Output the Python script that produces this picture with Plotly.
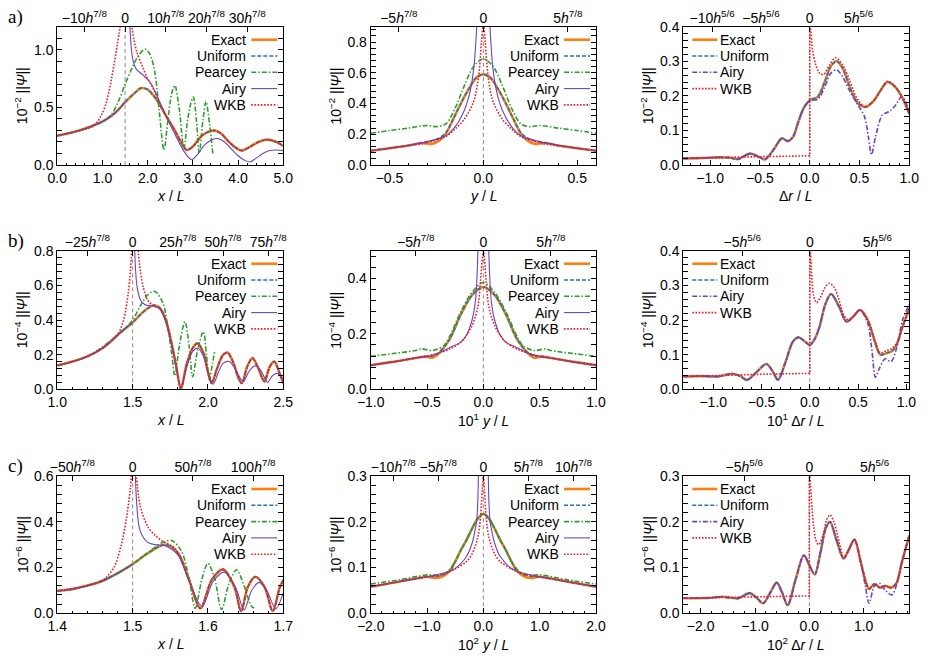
import plotly.graph_objects as go

W, H = 928, 663

# ---------------- Panel a) column 1 ----------------
a1_exact_x = [0.0, 0.3, 0.6, 0.9, 1.1, 1.3, 1.5, 1.7, 1.85, 2.0, 2.2, 2.4, 2.6, 2.75, 2.86, 3.0, 3.2, 3.45, 3.6, 3.8, 3.95, 4.08, 4.25, 4.45, 4.63, 4.85, 5.0]
a1_exact_y = [0.254, 0.28, 0.315, 0.36, 0.40, 0.46, 0.545, 0.62, 0.667, 0.655, 0.565, 0.43, 0.30, 0.19, 0.13, 0.16, 0.255, 0.30, 0.28, 0.20, 0.15, 0.125, 0.155, 0.20, 0.22, 0.20, 0.165]
a1_uniform_x = list(a1_exact_x)
a1_uniform_y = list(a1_exact_y)
a1_pearcey_x = [0.0, 0.5, 1.0, 1.2, 1.35, 1.5, 1.68, 1.8, 1.94, 2.05, 2.16, 2.26, 2.36, 2.45, 2.53, 2.6, 2.7, 2.8, 2.88, 2.95, 3.01, 3.08, 3.14, 3.22, 3.29, 3.37, 3.44]
a1_pearcey_y = [0.254, 0.30, 0.375, 0.44, 0.55, 0.70, 0.865, 0.95, 1.005, 0.96, 0.80, 0.45, 0.13, 0.40, 0.62, 0.69, 0.48, 0.14, 0.38, 0.53, 0.59, 0.38, 0.10, 0.38, 0.55, 0.35, 0.10]
a1_airy_x = [0.0, 0.5, 1.0, 1.3, 1.5, None, 1.585, 1.6, 1.64, 1.68, 1.75, 1.9, 2.05, 2.15, 2.23, 2.4, 2.6, 2.8, 2.97, 3.1, 3.25, 3.4, 3.53, 3.7, 3.85, 4.0, 4.15, 4.26, 4.4, 4.55, 4.7, 4.85, 5.0]
a1_airy_y = [0.254, 0.30, 0.375, 0.46, 0.545, None, 1.4, 1.25, 1.0, 0.90, 0.83, 0.78, 0.72, 0.65, 0.58, 0.43, 0.27, 0.12, 0.046, 0.09, 0.17, 0.215, 0.23, 0.20, 0.14, 0.08, 0.04, 0.026, 0.06, 0.10, 0.125, 0.13, 0.125]
a1_wkb_x = [0.0, 0.5, 0.8, 0.98, 1.09, 1.2, 1.28, 1.33, 1.37, 1.39, 1.41, None, 1.63, 1.65, 1.7, 1.76, 1.9, 2.0, 2.12, 2.2, 2.4, 2.6, 2.75, 2.86, 3.0, 3.2, 3.45, 3.6, 3.8, 3.95, 4.08, 4.25, 4.45, 4.63, 4.85, 5.0]
a1_wkb_y = [0.254, 0.30, 0.34, 0.435, 0.55, 0.75, 0.93, 1.05, 1.15, 1.2, 1.3, None, 1.3, 1.2, 1.08, 0.98, 0.84, 0.75, 0.665, 0.59, 0.43, 0.30, 0.19, 0.13, 0.16, 0.255, 0.30, 0.28, 0.20, 0.15, 0.125, 0.155, 0.20, 0.22, 0.20, 0.165]

# ---------------- Panel a) column 2 ----------------
a2_exact_x = [-0.6, -0.5, -0.4, -0.34, -0.3, -0.27, -0.24, -0.2, -0.16, -0.12, -0.08, -0.04, 0.0, 0.04, 0.08, 0.12, 0.16, 0.2, 0.24, 0.27, 0.3, 0.34, 0.4, 0.5, 0.6]
a2_exact_y = [0.093, 0.109, 0.127, 0.142, 0.14, 0.138, 0.155, 0.205, 0.30, 0.40, 0.49, 0.565, 0.59, 0.565, 0.49, 0.40, 0.30, 0.205, 0.155, 0.138, 0.14, 0.142, 0.127, 0.109, 0.093]
a2_uniform_x = list(a2_exact_x)
a2_uniform_y = [0.093, 0.109, 0.127, 0.143, 0.152, 0.16, 0.172, 0.21, 0.30, 0.40, 0.49, 0.565, 0.59, 0.565, 0.49, 0.40, 0.30, 0.21, 0.172, 0.16, 0.152, 0.143, 0.127, 0.109, 0.093]
a2_pearcey_x = [-0.6, -0.5, -0.4, -0.3, -0.25, -0.2, -0.15, -0.1, -0.05, 0.0, 0.05, 0.1, 0.15, 0.2, 0.25, 0.3, 0.4, 0.5, 0.6]
a2_pearcey_y = [0.207, 0.224, 0.24, 0.257, 0.25, 0.267, 0.37, 0.52, 0.645, 0.69, 0.645, 0.52, 0.37, 0.267, 0.25, 0.257, 0.24, 0.224, 0.207]
a2_airy_x = [-0.6, -0.5, -0.4, -0.3, -0.2, -0.15, -0.1, -0.07, -0.05, -0.04, -0.033, None, 0.033, 0.04, 0.05, 0.07, 0.1, 0.15, 0.2, 0.3, 0.4, 0.5, 0.6]
a2_airy_y = [0.093, 0.109, 0.128, 0.152, 0.19, 0.25, 0.36, 0.48, 0.64, 0.80, 0.95, None, 0.95, 0.80, 0.64, 0.48, 0.36, 0.25, 0.19, 0.152, 0.128, 0.109, 0.093]
a2_wkb_x = [-0.6, -0.5, -0.4, -0.3, -0.2, -0.15, -0.1, -0.05, -0.025, -0.01, 0.0, 0.01, 0.025, 0.05, 0.1, 0.15, 0.2, 0.3, 0.4, 0.5, 0.6]
a2_wkb_y = [0.093, 0.109, 0.125, 0.145, 0.185, 0.235, 0.30, 0.42, 0.58, 0.80, 0.92, 0.80, 0.58, 0.42, 0.30, 0.235, 0.185, 0.145, 0.125, 0.109, 0.093]

# ---------------- Panel a) column 3 ----------------
a3_exact_x = [-1.27, -1.1, -0.9, -0.8, -0.72, -0.6, -0.5, -0.45, -0.4, -0.35, -0.28, -0.22, -0.17, -0.12, -0.06, 0.0, 0.08, 0.15, 0.21, 0.27, 0.33, 0.4, 0.48, 0.56, 0.64, 0.71, 0.78, 0.85, 0.92, 1.0]
a3_exact_y = [0.019, 0.02, 0.022, 0.021, 0.017, 0.033, 0.022, 0.016, 0.03, 0.05, 0.077, 0.069, 0.08, 0.12, 0.165, 0.187, 0.197, 0.24, 0.285, 0.30, 0.28, 0.227, 0.18, 0.168, 0.185, 0.215, 0.24, 0.228, 0.20, 0.148]
a3_uniform_x = list(a3_exact_x)
a3_uniform_y = list(a3_exact_y)
a3_airy_x = [-1.27, -1.1, -0.9, -0.8, -0.72, -0.6, -0.5, -0.45, -0.4, -0.35, -0.28, -0.22, -0.17, -0.12, -0.06, 0.0, 0.08, 0.15, 0.21, 0.27, 0.33, 0.4, 0.48, 0.55, 0.59, 0.62, 0.66, 0.73, 0.8, 0.86, 0.92, 0.96, 1.0]
a3_airy_y = [0.019, 0.02, 0.022, 0.021, 0.017, 0.033, 0.022, 0.016, 0.03, 0.05, 0.077, 0.069, 0.08, 0.12, 0.165, 0.185, 0.19, 0.225, 0.265, 0.275, 0.255, 0.215, 0.175, 0.14, 0.08, 0.03, 0.08, 0.145, 0.155, 0.172, 0.197, 0.185, 0.15]
a3_wkb_left_x = [-1.27, -1.0, -0.7, -0.5, -0.3, -0.1, 0.0, 0.0]
a3_wkb_left_y = [0.02, 0.021, 0.022, 0.024, 0.025, 0.026, 0.027, 0.45]
a3_wkb_right_x = [0.0, 0.01, 0.03, 0.06, 0.1, 0.14, 0.2, 0.26, 0.33, 0.4, 0.48, 0.56, 0.64, 0.71, 0.78, 0.85, 0.92, 1.0]
a3_wkb_right_y = [0.45, 0.39, 0.33, 0.29, 0.265, 0.262, 0.29, 0.31, 0.29, 0.245, 0.19, 0.168, 0.185, 0.215, 0.242, 0.23, 0.20, 0.148]

# ---------------- Panel b) column 1 ----------------
b1_exact_x = [1.0, 1.1, 1.2, 1.3, 1.4, 1.45, 1.5, 1.55, 1.6, 1.64, 1.68, 1.72, 1.76, 1.79, 1.82, 1.86, 1.9, 1.93, 1.97, 2.0, 2.025, 2.06, 2.1, 2.13, 2.17, 2.2, 2.225, 2.26, 2.295, 2.33, 2.36, 2.375, 2.41, 2.44, 2.47, 2.5]
b1_exact_y = [0.137, 0.16, 0.19, 0.237, 0.313, 0.35, 0.385, 0.43, 0.467, 0.485, 0.47, 0.40, 0.26, 0.13, 0.005, 0.15, 0.24, 0.265, 0.21, 0.10, 0.035, 0.12, 0.198, 0.212, 0.15, 0.07, 0.035, 0.13, 0.18, 0.13, 0.065, 0.045, 0.13, 0.16, 0.105, 0.035]
b1_uniform_x = list(b1_exact_x)
b1_uniform_y = list(b1_exact_y)
b1_pearcey_x = [1.0, 1.2, 1.4, 1.5, 1.55, 1.6, 1.648, 1.7, 1.73, 1.76, 1.78, 1.81, 1.847, 1.875, 1.898, 1.93, 1.969, 1.99, 2.009, 2.03, 2.046]
b1_pearcey_y = [0.137, 0.19, 0.313, 0.40, 0.48, 0.545, 0.565, 0.50, 0.38, 0.2, 0.077, 0.25, 0.39, 0.25, 0.073, 0.22, 0.333, 0.2, 0.058, 0.15, 0.227]
b1_airy_x = [1.0, 1.1, 1.2, 1.3, 1.4, 1.45, 1.5, None, 1.512, 1.52, 1.53, 1.55, 1.58, 1.61, 1.64, 1.68, 1.72, 1.76, 1.79, 1.82, 1.86, 1.9, 1.935, 1.97, 2.0, 2.035, 2.07, 2.1, 2.14, 2.18, 2.21, 2.235, 2.27, 2.3, 2.32, 2.35, 2.38, 2.395, 2.43, 2.46, 2.49, 2.5]
b1_airy_y = [0.137, 0.16, 0.19, 0.237, 0.313, 0.35, 0.385, None, 0.85, 0.68, 0.59, 0.52, 0.49, 0.483, 0.48, 0.465, 0.39, 0.25, 0.12, 0.01, 0.13, 0.22, 0.237, 0.19, 0.10, 0.03, 0.10, 0.15, 0.16, 0.12, 0.07, 0.045, 0.10, 0.13, 0.135, 0.11, 0.06, 0.04, 0.08, 0.092, 0.07, 0.055]
b1_wkb_x = [1.0, 1.1, 1.2, 1.3, 1.35, 1.4, 1.44, 1.47, 1.485, 1.495, None, 1.535, 1.55, 1.57, 1.6, 1.64, 1.68, 1.72, 1.76, 1.79, 1.82, 1.86, 1.9, 1.93, 1.97, 2.0, 2.025, 2.06, 2.1, 2.13, 2.17, 2.2, 2.225, 2.26, 2.295, 2.33, 2.36, 2.375, 2.41, 2.44, 2.47, 2.5]
b1_wkb_y = [0.137, 0.16, 0.19, 0.24, 0.27, 0.313, 0.40, 0.55, 0.68, 0.82, None, 0.82, 0.69, 0.59, 0.515, 0.48, 0.468, 0.40, 0.26, 0.13, 0.005, 0.15, 0.24, 0.265, 0.21, 0.10, 0.035, 0.12, 0.198, 0.212, 0.15, 0.07, 0.035, 0.13, 0.18, 0.13, 0.065, 0.045, 0.13, 0.16, 0.105, 0.035]

# ---------------- Panel b) column 2 ----------------
b2_exact_x = [-1.0, -0.8, -0.6, -0.52, -0.45, -0.4, -0.3, -0.2, -0.1, 0.0, 0.1, 0.2, 0.3, 0.4, 0.45, 0.52, 0.6, 0.8, 1.0]
b2_exact_y = [0.087, 0.099, 0.113, 0.118, 0.114, 0.128, 0.18, 0.27, 0.34, 0.369, 0.34, 0.27, 0.18, 0.128, 0.114, 0.118, 0.113, 0.099, 0.087]
b2_uniform_x = list(b2_exact_x)
b2_uniform_y = [0.087, 0.099, 0.113, 0.119, 0.12, 0.13, 0.18, 0.27, 0.34, 0.369, 0.34, 0.27, 0.18, 0.13, 0.12, 0.119, 0.113, 0.099, 0.087]
b2_pearcey_x = [-1.0, -0.8, -0.6, -0.55, -0.45, -0.35, -0.3, -0.2, -0.1, 0.0, 0.1, 0.2, 0.3, 0.35, 0.45, 0.55, 0.6, 0.8, 1.0]
b2_pearcey_y = [0.119, 0.129, 0.14, 0.146, 0.14, 0.158, 0.19, 0.28, 0.35, 0.385, 0.35, 0.28, 0.19, 0.158, 0.14, 0.146, 0.14, 0.129, 0.119]
b2_airy_x = [-1.0, -0.8, -0.6, -0.5, -0.4, -0.3, -0.2, -0.15, -0.1, -0.07, -0.055, -0.045, None, 0.045, 0.055, 0.07, 0.1, 0.15, 0.2, 0.3, 0.4, 0.5, 0.6, 0.8, 1.0]
b2_airy_y = [0.087, 0.099, 0.113, 0.118, 0.13, 0.15, 0.17, 0.195, 0.25, 0.32, 0.42, 0.55, None, 0.55, 0.42, 0.32, 0.25, 0.195, 0.17, 0.15, 0.13, 0.118, 0.113, 0.099, 0.087]
b2_wkb_x = [-1.0, -0.8, -0.6, -0.5, -0.4, -0.3, -0.2, -0.15, -0.1, -0.05, -0.025, -0.01, 0.0, 0.01, 0.025, 0.05, 0.1, 0.15, 0.2, 0.3, 0.4, 0.5, 0.6, 0.8, 1.0]
b2_wkb_y = [0.087, 0.099, 0.113, 0.12, 0.13, 0.145, 0.17, 0.195, 0.23, 0.295, 0.39, 0.47, 0.5, 0.47, 0.39, 0.295, 0.23, 0.195, 0.17, 0.145, 0.13, 0.12, 0.113, 0.099, 0.087]

# ---------------- Panel b) column 3 ----------------
b3_exact_x = [-1.31, -1.1, -0.95, -0.8, -0.72, -0.65, -0.55, -0.45, -0.38, -0.33, -0.25, -0.18, -0.12, -0.06, 0.0, 0.05, 0.1, 0.16, 0.22, 0.3, 0.38, 0.45, 0.52, 0.6, 0.67, 0.73, 0.8, 0.85, 0.9, 0.96, 1.03]
b3_exact_y = [0.037, 0.038, 0.037, 0.045, 0.038, 0.027, 0.05, 0.073, 0.05, 0.027, 0.08, 0.135, 0.15, 0.14, 0.128, 0.145, 0.18, 0.245, 0.275, 0.24, 0.195, 0.21, 0.229, 0.2, 0.14, 0.1, 0.105, 0.11, 0.13, 0.18, 0.234]
b3_uniform_x = list(b3_exact_x)
b3_uniform_y = list(b3_exact_y)
b3_airy_x = [-1.31, -1.1, -0.95, -0.8, -0.72, -0.65, -0.55, -0.45, -0.38, -0.33, -0.25, -0.18, -0.12, -0.06, 0.0, 0.05, 0.1, 0.16, 0.22, 0.3, 0.38, 0.45, 0.52, 0.6, 0.64, 0.68, 0.72, 0.78, 0.84, 0.9, 0.96, 1.03]
b3_airy_y = [0.037, 0.038, 0.037, 0.045, 0.038, 0.027, 0.05, 0.073, 0.05, 0.027, 0.08, 0.135, 0.15, 0.14, 0.128, 0.145, 0.18, 0.245, 0.275, 0.24, 0.195, 0.21, 0.229, 0.19, 0.12, 0.035, 0.06, 0.088, 0.08, 0.12, 0.2, 0.245]
b3_wkb_left_x = [-1.31, -1.0, -0.7, -0.4, -0.2, 0.0, 0.0]
b3_wkb_left_y = [0.037, 0.04, 0.042, 0.044, 0.045, 0.046, 0.45]
b3_wkb_right_x = [0.0, 0.015, 0.04, 0.07, 0.11, 0.16, 0.2, 0.25, 0.3, 0.35, 0.4, 0.45, 0.52, 0.6, 0.67, 0.73, 0.8, 0.85, 0.9, 0.96, 1.03]
b3_wkb_right_y = [0.45, 0.35, 0.27, 0.25, 0.265, 0.295, 0.306, 0.295, 0.26, 0.215, 0.2, 0.21, 0.229, 0.2, 0.145, 0.105, 0.112, 0.118, 0.132, 0.18, 0.234]

# ---------------- Panel c) column 1 ----------------
c1_exact_x = [1.4, 1.42, 1.44, 1.46, 1.48, 1.5, 1.52, 1.543, 1.56, 1.575, 1.59, 1.605, 1.62, 1.635, 1.644, 1.653, 1.663, 1.675, 1.686, 1.695, 1.7]
c1_exact_y = [0.098, 0.105, 0.121, 0.141, 0.175, 0.215, 0.262, 0.30, 0.265, 0.146, 0.022, 0.146, 0.192, 0.116, 0.01, 0.116, 0.16, 0.116, 0.01, 0.11, 0.146]
c1_uniform_x = list(c1_exact_x)
c1_uniform_y = list(c1_exact_y)
c1_pearcey_x = [1.4, 1.44, 1.48, 1.5, 1.52, 1.54, 1.552, 1.565, 1.575, 1.583, 1.592, 1.6, 1.609, 1.618, 1.628, 1.638, 1.648, 1.658, 1.664]
c1_pearcey_y = [0.098, 0.121, 0.175, 0.215, 0.265, 0.31, 0.318, 0.27, 0.15, 0.022, 0.15, 0.218, 0.15, 0.017, 0.13, 0.19, 0.12, 0.03, 0.02]
c1_airy_x = [1.4, 1.42, 1.44, 1.46, 1.48, 1.5, None, 1.5025, 1.505, 1.51, 1.52, 1.53, 1.543, 1.56, 1.575, 1.592, 1.607, 1.622, 1.637, 1.648, 1.658, 1.668, 1.678, 1.69, 1.7]
c1_airy_y = [0.098, 0.105, 0.121, 0.141, 0.175, 0.215, None, 0.8, 0.5, 0.36, 0.31, 0.30, 0.295, 0.255, 0.14, 0.03, 0.14, 0.18, 0.11, 0.015, 0.1, 0.135, 0.1, 0.02, 0.09]
c1_wkb_x = [1.4, 1.44, 1.46, 1.475, 1.485, 1.492, 1.497, 1.5, None, 1.504, 1.51, 1.52, 1.53, 1.54, 1.554, 1.56, 1.575, 1.59, 1.605, 1.62, 1.635, 1.644, 1.653, 1.663, 1.675, 1.686, 1.695, 1.7]
c1_wkb_y = [0.098, 0.121, 0.143, 0.2, 0.3, 0.42, 0.55, 0.7, None, 0.65, 0.47, 0.38, 0.34, 0.315, 0.29, 0.265, 0.146, 0.022, 0.146, 0.192, 0.116, 0.01, 0.116, 0.16, 0.116, 0.01, 0.11, 0.146]

# ---------------- Panel c) column 2 ----------------
c2_exact_x = [-2.0, -1.5, -1.0, -0.85, -0.75, -0.6, -0.5, -0.4, -0.3, -0.2, -0.1, 0.0, 0.1, 0.2, 0.3, 0.4, 0.5, 0.6, 0.75, 0.85, 1.0, 1.5, 2.0]
c2_exact_y = [0.058, 0.069, 0.08, 0.077, 0.079, 0.092, 0.113, 0.138, 0.16, 0.185, 0.207, 0.217, 0.207, 0.185, 0.16, 0.138, 0.113, 0.092, 0.079, 0.077, 0.08, 0.069, 0.058]
c2_uniform_x = list(c2_exact_x)
c2_uniform_y = [0.058, 0.069, 0.08, 0.081, 0.083, 0.092, 0.113, 0.138, 0.16, 0.185, 0.207, 0.217, 0.207, 0.185, 0.16, 0.138, 0.113, 0.092, 0.083, 0.081, 0.08, 0.069, 0.058]
c2_pearcey_x = [-2.0, -1.5, -1.0, -0.8, -0.65, -0.5, -0.4, -0.3, -0.2, -0.1, 0.0, 0.1, 0.2, 0.3, 0.4, 0.5, 0.65, 0.8, 1.0, 1.5, 2.0]
c2_pearcey_y = [0.064, 0.073, 0.084, 0.083, 0.09, 0.113, 0.138, 0.16, 0.185, 0.207, 0.218, 0.207, 0.185, 0.16, 0.138, 0.113, 0.09, 0.083, 0.084, 0.073, 0.064]
c2_airy_x = [-2.0, -1.5, -1.0, -0.7, -0.5, -0.3, -0.2, -0.15, -0.12, -0.1, -0.085, None, 0.085, 0.1, 0.12, 0.15, 0.2, 0.3, 0.5, 0.7, 1.0, 1.5, 2.0]
c2_airy_y = [0.058, 0.069, 0.08, 0.088, 0.098, 0.124, 0.153, 0.18, 0.2, 0.24, 0.32, None, 0.32, 0.24, 0.2, 0.18, 0.153, 0.124, 0.098, 0.088, 0.08, 0.069, 0.058]
c2_wkb_x = [-2.0, -1.5, -1.0, -0.7, -0.5, -0.3, -0.2, -0.1, -0.05, -0.02, 0.0, 0.02, 0.05, 0.1, 0.2, 0.3, 0.5, 0.7, 1.0, 1.5, 2.0]
c2_wkb_y = [0.058, 0.069, 0.079, 0.086, 0.097, 0.113, 0.13, 0.165, 0.21, 0.27, 0.3, 0.27, 0.21, 0.165, 0.13, 0.113, 0.097, 0.086, 0.079, 0.069, 0.058]

# ---------------- Panel c) column 3 ----------------
c3_exact_x = [-2.32, -2.0, -1.8, -1.6, -1.45, -1.3, -1.1, -0.98, -0.85, -0.72, -0.6, -0.5, -0.4, -0.25, -0.1, 0.0, 0.1, 0.2, 0.3, 0.38, 0.5, 0.63, 0.73, 0.83, 0.95, 1.05, 1.1, 1.2, 1.3, 1.4, 1.5, 1.6, 1.7, 1.78, 1.84]
c3_exact_y = [0.033, 0.033, 0.034, 0.036, 0.034, 0.033, 0.044, 0.035, 0.022, 0.045, 0.067, 0.045, 0.018, 0.075, 0.127, 0.105, 0.085, 0.13, 0.185, 0.20, 0.16, 0.12, 0.14, 0.161, 0.11, 0.065, 0.053, 0.064, 0.056, 0.06, 0.056, 0.065, 0.11, 0.145, 0.17]
c3_uniform_x = list(c3_exact_x)
c3_uniform_y = list(c3_exact_y)
c3_airy_x = [-2.32, -2.0, -1.8, -1.6, -1.45, -1.3, -1.1, -0.98, -0.85, -0.72, -0.6, -0.5, -0.4, -0.25, -0.1, 0.0, 0.1, 0.2, 0.3, 0.38, 0.5, 0.63, 0.73, 0.83, 0.95, 1.03, 1.1, 1.2, 1.3, 1.4, 1.52, 1.6, 1.7, 1.78, 1.84]
c3_airy_y = [0.033, 0.033, 0.034, 0.036, 0.034, 0.033, 0.044, 0.035, 0.022, 0.045, 0.067, 0.045, 0.018, 0.075, 0.127, 0.105, 0.085, 0.13, 0.185, 0.20, 0.16, 0.12, 0.14, 0.161, 0.11, 0.06, 0.022, 0.06, 0.065, 0.05, 0.04, 0.06, 0.11, 0.145, 0.17]
c3_wkb_left_x = [-2.32, -2.0, -1.5, -1.0, -0.5, 0.0, 0.0]
c3_wkb_left_y = [0.033, 0.034, 0.035, 0.036, 0.037, 0.038, 0.32]
c3_wkb_right_x = [0.0, 0.02, 0.05, 0.08, 0.12, 0.17, 0.25, 0.32, 0.38, 0.45, 0.52, 0.6, 0.63, 0.73, 0.83, 0.95, 1.05, 1.1, 1.2, 1.3, 1.4, 1.5, 1.6, 1.7, 1.78, 1.84]
c3_wkb_right_y = [0.32, 0.28, 0.23, 0.19, 0.16, 0.15, 0.17, 0.205, 0.215, 0.2, 0.17, 0.13, 0.12, 0.14, 0.161, 0.11, 0.065, 0.053, 0.064, 0.056, 0.06, 0.056, 0.065, 0.11, 0.145, 0.17]

# ---------------- axes / labels ----------------
x_ranges = [[0.0, 5.0], [-0.6, 0.6], [-1.27, 1.0],
            [1.0, 2.5], [-1.0, 1.0], [-1.31, 1.03],
            [1.4, 1.7], [-2.0, 2.0], [-2.32, 1.84]]
y_ranges = [[0, 1.2], [0, 0.9], [0, 0.4],
            [0, 0.8], [0, 0.5], [0, 0.4],
            [0, 0.6], [0, 0.3], [0, 0.3]]
x_dticks = [1.0, 0.5, 0.5, 0.5, 0.5, 0.5, 0.1, 1.0, 1.0]
y_dticks = [0.5, 0.2, 0.1, 0.2, 0.2, 0.1, 0.2, 0.1, 0.1]
caustic_x = [1.5, 0.0, 0.0, 1.5, 0.0, 0.0, 1.5, 0.0, 0.0]

H78 = "<i>h</i><sup>7/8</sup>"
H56 = "<i>h</i><sup>5/6</sup>"
top_vals = [[0.6, 1.5, 2.4, 3.3, 4.2], [-0.45, 0.0, 0.45], [-0.98, -0.49, 0.0, 0.49],
            [1.2, 1.5, 1.8, 2.1, 2.4], [-0.6, 0.0, 0.6], [-0.7, 0.0, 0.7],
            [1.42, 1.5, 1.58, 1.66], [-1.6, -0.8, 0.0, 0.8, 1.6], [-1.2, 0.0, 1.2]]
top_text = [["−10" + H78, "0", "10" + H78, "20" + H78, "30" + H78],
            ["−5" + H78, "0", "5" + H78],
            ["−10" + H56, "−5" + H56, "0", "5" + H56],
            ["−25" + H78, "0", "25" + H78, "50" + H78, "75" + H78],
            ["−5" + H78, "0", "5" + H78],
            ["−5" + H56, "0", "5" + H56],
            ["−50" + H78, "0", "50" + H78, "100" + H78],
            ["−10" + H78, "−5" + H78, "0", "5" + H78, "10" + H78],
            ["−5" + H56, "0", "5" + H56]]
x_titles = ["<i>x</i> / <i>L</i>", "<i>y</i> / <i>L</i>", "Δ<i>r</i> / <i>L</i>",
            "<i>x</i> / <i>L</i>", "10<sup>1</sup> <i>y</i> / <i>L</i>", "10<sup>1</sup> Δ<i>r</i> / <i>L</i>",
            "<i>x</i> / <i>L</i>", "10<sup>2</sup> <i>y</i> / <i>L</i>", "10<sup>2</sup> Δ<i>r</i> / <i>L</i>"]
y_titles = ["10<sup>−2</sup> ||<i>Ψ</i>||", "10<sup>−4</sup> ||<i>Ψ</i>||", "10<sup>−6</sup> ||<i>Ψ</i>||"]
row_labels = ["a)", "b)", "c)"]

panels = [
    [("Exact", a1_exact_x, a1_exact_y), ("Uniform", a1_uniform_x, a1_uniform_y), ("Pearcey", a1_pearcey_x, a1_pearcey_y), ("Airy", a1_airy_x, a1_airy_y), ("WKB", a1_wkb_x, a1_wkb_y)],
    [("Exact", a2_exact_x, a2_exact_y), ("Uniform", a2_uniform_x, a2_uniform_y), ("Pearcey", a2_pearcey_x, a2_pearcey_y), ("Airy", a2_airy_x, a2_airy_y), ("WKB", a2_wkb_x, a2_wkb_y)],
    [("Exact", a3_exact_x, a3_exact_y), ("Uniform", a3_uniform_x, a3_uniform_y), ("Airy", a3_airy_x, a3_airy_y), ("WKB", a3_wkb_left_x, a3_wkb_left_y), ("WKB", a3_wkb_right_x, a3_wkb_right_y)],
    [("Exact", b1_exact_x, b1_exact_y), ("Uniform", b1_uniform_x, b1_uniform_y), ("Pearcey", b1_pearcey_x, b1_pearcey_y), ("Airy", b1_airy_x, b1_airy_y), ("WKB", b1_wkb_x, b1_wkb_y)],
    [("Exact", b2_exact_x, b2_exact_y), ("Uniform", b2_uniform_x, b2_uniform_y), ("Pearcey", b2_pearcey_x, b2_pearcey_y), ("Airy", b2_airy_x, b2_airy_y), ("WKB", b2_wkb_x, b2_wkb_y)],
    [("Exact", b3_exact_x, b3_exact_y), ("Uniform", b3_uniform_x, b3_uniform_y), ("Airy", b3_airy_x, b3_airy_y), ("WKB", b3_wkb_left_x, b3_wkb_left_y), ("WKB", b3_wkb_right_x, b3_wkb_right_y)],
    [("Exact", c1_exact_x, c1_exact_y), ("Uniform", c1_uniform_x, c1_uniform_y), ("Pearcey", c1_pearcey_x, c1_pearcey_y), ("Airy", c1_airy_x, c1_airy_y), ("WKB", c1_wkb_x, c1_wkb_y)],
    [("Exact", c2_exact_x, c2_exact_y), ("Uniform", c2_uniform_x, c2_uniform_y), ("Pearcey", c2_pearcey_x, c2_pearcey_y), ("Airy", c2_airy_x, c2_airy_y), ("WKB", c2_wkb_x, c2_wkb_y)],
    [("Exact", c3_exact_x, c3_exact_y), ("Uniform", c3_uniform_x, c3_uniform_y), ("Airy", c3_airy_x, c3_airy_y), ("WKB", c3_wkb_left_x, c3_wkb_left_y), ("WKB", c3_wkb_right_x, c3_wkb_right_y)],
]

# ---------------- styling ----------------
FONT = "Liberation Sans, Arial, Helvetica, sans-serif"
C_EXACT, C_UNI, C_PEAR, C_AIRY, C_WKB = "#ff7f0e", "#1f77b4", "#2ca02c", "#6a44c2", "#ee1c25"


def style(name, col):
    if name == "Exact":
        return dict(color=C_EXACT, width=2.6, dash="solid")
    if name == "Uniform":
        return dict(color=C_UNI, width=1.6, dash="4px,2px")
    if name == "Pearcey":
        return dict(color=C_PEAR, width=1.6, dash="5px,2px,1.5px,2px")
    if name == "Airy":
        if col == 2:
            return dict(color=C_AIRY, width=1.6, dash="5px,2px,1.5px,2px")
        return dict(color=C_AIRY, width=1.1, dash="solid")
    return dict(color=C_WKB, width=1.6, dash="1.6px,1.6px")


COLS = [(57.3, 283.3), (370.7, 596.0), (683.3, 909.3)]
ROWS = [(26.7, 165.0), (250.7, 389.3), (476.0, 613.3)]


def px(x):
    return x / W


def py(y):
    return 1 - y / H


def ax_id(n):
    return "" if n == 1 else str(n)


fig = go.Figure()
layout = dict(width=W, height=H, margin=dict(l=0, r=0, t=0, b=0, pad=0, autoexpand=False),
              paper_bgcolor="white", plot_bgcolor="white", showlegend=False,
              font=dict(family=FONT, size=14, color="black"))
shapes, annotations = [], []

for k in range(9):
    r, c = divmod(k, 3)
    n = k + 1
    xa, ya, ta = "x" + ax_id(n), "y" + ax_id(n), "x" + str(n + 9)
    x0, x1 = COLS[c]
    y0, y1 = ROWS[r]
    dom_x = [px(x0), px(x1)]
    dom_y = [py(y1), py(y0)]
    for name, xs, ys in panels[k]:
        vertical_piece = (name == "WKB" and c == 2 and xs[-1] == 0.0)
        fig.add_trace(go.Scatter(x=xs, y=ys, mode="lines", xaxis=xa, yaxis=ya,
                                 line=dict(shape="linear" if vertical_piece else "spline",
                                           smoothing=0.9, **style(name, c)),
                                 connectgaps=False, hoverinfo="skip"))
    # carrier trace so the top (h-scale) axis is drawn; it has no visible points
    fig.add_trace(go.Scatter(x=x_ranges[k], y=[None, None], mode="lines", xaxis=ta, yaxis=ya,
                             hoverinfo="skip", line=dict(width=0)))
    axis_common = dict(showline=True, linecolor="black", linewidth=1, showgrid=False,
                       zeroline=False, ticks="inside", ticklen=5, tickcolor="black",
                       tickfont=dict(size=14, family=FONT))
    layout["xaxis" + ax_id(n)] = dict(domain=dom_x, anchor=ya, range=x_ranges[k], dtick=x_dticks[k],
                                      tick0=0, tickformat=".1f", mirror=True,
                                      minor=dict(ticks="inside", ticklen=2.5, dtick=x_dticks[k] / 5, tickcolor="black"),
                                      **axis_common)
    layout["yaxis" + ax_id(n)] = dict(domain=dom_y, anchor=xa, range=y_ranges[k], dtick=y_dticks[k],
                                      tick0=0, tickformat=".1f", mirror="allticks",
                                      minor=dict(ticks="inside", ticklen=2.5, dtick=y_dticks[k] / 5, tickcolor="black"),
                                      **axis_common)
    layout["xaxis" + str(n + 9)] = dict(overlaying=xa, anchor=ya, side="top", range=x_ranges[k],
                                        tickmode="array", tickvals=top_vals[k], ticktext=top_text[k],
                                        showline=False, showgrid=False, zeroline=False,
                                        ticks="inside", ticklen=5, tickcolor="black",
                                        tickfont=dict(size=14, family=FONT))
    # caustic / reference line
    shapes.append(dict(type="line", xref=xa, yref=ya + " domain", x0=caustic_x[k], x1=caustic_x[k],
                       y0=0, y1=1, layer="below", line=dict(color="#8c8c8c", width=1, dash="4px,3px")))
    # axis titles
    annotations.append(dict(text=x_titles[k], xref="paper", yref="paper", x=px((x0 + x1) / 2),
                            y=py(y1 + 31), xanchor="center", yanchor="middle", showarrow=False,
                            font=dict(size=14, family=FONT)))
    annotations.append(dict(text=y_titles[r], xref="paper", yref="paper", x=px(x0 - 36),
                            y=py((y0 + y1) / 2), xanchor="center", yanchor="middle", showarrow=False,
                            textangle=-90, font=dict(size=14, family=FONT)))
    # legend
    names = []
    for name, _, _ in panels[k]:
        if name not in names:
            names.append(name)
    for i, name in enumerate(names):
        yy = y0 + 13.0 + 16.3 * i
        st = style(name, c)
        if c < 2:
            lx0, lx1 = x1 - 32, x1 - 6
            annotations.append(dict(text=name, xref="paper", yref="paper", x=px(x1 - 35), y=py(yy),
                                    xanchor="right", yanchor="middle", showarrow=False,
                                    font=dict(size=14, family=FONT)))
        else:
            lx0, lx1 = x0 + 9, x0 + 34
            annotations.append(dict(text=name, xref="paper", yref="paper", x=px(x0 + 35), y=py(yy),
                                    xanchor="left", yanchor="middle", showarrow=False,
                                    font=dict(size=14, family=FONT)))
        shapes.append(dict(type="line", xref="paper", yref="paper", x0=px(lx0), x1=px(lx1),
                           y0=py(yy), y1=py(yy), line=st))

for r in range(3):
    annotations.append(dict(text=row_labels[r], xref="paper", yref="paper", x=px(6),
                            y=py(ROWS[r][0] - 10), xanchor="left", yanchor="middle", showarrow=False,
                            font=dict(size=19, family="Liberation Serif, Times New Roman, serif")))

layout["shapes"] = shapes
layout["annotations"] = annotations
fig.update_layout(**layout)
fig.write_html("out.html")
